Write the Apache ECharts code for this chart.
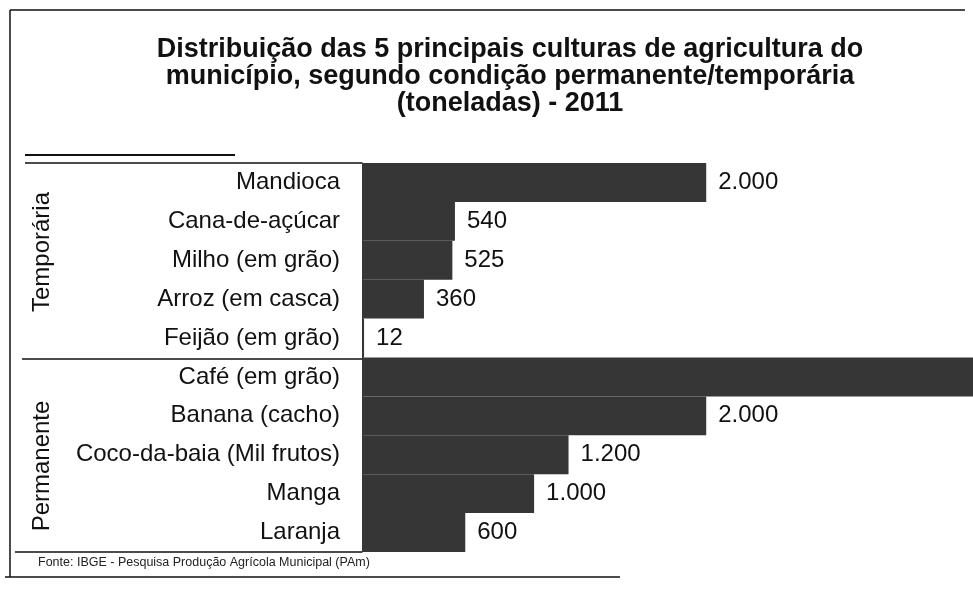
<!DOCTYPE html>
<html>
<head>
    <meta charset="utf-8">
    <title>Culturas agrícolas 2011</title>
    <script src="https://cdn.jsdelivr.net/npm/echarts@6/dist/echarts.min.js"></script>
    <style>
        body { margin: 0; background: #fff; }
    </style>
</head>
<body>
    <div id="main" style="width: 973px;height:596px;"></div>

    <script type="text/javascript">
        // categorias (de cima para baixo) e valores em toneladas
        var culturas = ['Mandioca', 'Cana-de-açúcar', 'Milho (em grão)', 'Arroz (em casca)', 'Feijão (em grão)',
            'Café (em grão)', 'Banana (cacho)', 'Coco-da-baia (Mil frutos)', 'Manga', 'Laranja'];
        // Café sai da imagem à direita: valor estimado
        var toneladas = [2000, 540, 525, 360, 12, 4000, 2000, 1200, 1000, 600];
        var grupos = ['Temporária', 'Permanente'];
        var titulo = 'Distribuição das 5 principais culturas de agricultura do\nmunicípio, segundo condição permanente/temporária\n(toneladas) - 2011';
        var fonte = 'Fonte: IBGE - Pesquisa Produção Agrícola Municipal (PAm)';

        var eixoMax = 3550;

        var myChart = echarts.init(document.getElementById('main'));

        var fmt = function (v) {
            return String(v).replace(/\B(?=(\d{3})+(?!\d))/g, '.');
        };

        var linha = function (x1, y1, x2, y2, w) {
            return {
                type: 'line', silent: true,
                shape: { x1: x1, y1: y1, x2: x2, y2: y2 },
                style: { stroke: '#111', lineWidth: w || 1 }
            };
        };

        option = {
            backgroundColor: '#fff',
            title: {
                text: titulo,
                left: 505,
                textAlign: 'center',
                top: 31,
                textStyle: {
                    fontFamily: 'Liberation Sans',
                    fontSize: 27,
                    fontWeight: 'bold',
                    lineHeight: 27,
                    color: '#111'
                }
            },
            grid: { left: 362, right: 0, top: 163, bottom: 44 },
            xAxis: {
                type: 'value',
                min: 0,
                max: eixoMax,
                show: false
            },
            yAxis: {
                type: 'category',
                data: culturas,
                inverse: true,
                axisTick: { show: false },
                axisLine: { show: true, lineStyle: { color: '#111', width: 1 } },
                axisLabel: {
                    margin: 22,
                    fontFamily: 'Liberation Sans',
                    fontSize: 24,
                    color: '#111'
                }
            },
            series: [{
                type: 'bar',
                data: toneladas,
                barCategoryGap: '0%',
                itemStyle: { color: '#363636' },
                label: {
                    show: true,
                    position: 'right',
                    distance: 12,
                    fontFamily: 'Liberation Sans',
                    fontSize: 24,
                    color: '#111',
                    formatter: function (p) { return p.value > eixoMax ? '' : fmt(p.value); }
                }
            }],
            graphic: [
                // moldura
                linha(10, 10, 965, 10, 1.5),
                linha(10, 10, 10, 577, 1.5),
                linha(5, 577, 620, 577, 1.5),
                // cabeçalho da tabela e divisões
                linha(25, 155, 235, 155, 2),
                linha(25, 163, 362, 163, 1.5),
                linha(22, 359, 362, 359, 1.5),
                linha(15, 552, 362, 552, 1.5),
                {
                    type: 'text', silent: true,
                    x: 42, y: 252, rotation: Math.PI / 2,
                    style: {
                        text: grupos[0], fontFamily: 'Liberation Sans', fontSize: 24,
                        fill: '#111', align: 'center', verticalAlign: 'middle'
                    }
                },
                {
                    type: 'text', silent: true,
                    x: 42, y: 466, rotation: Math.PI / 2,
                    style: {
                        text: grupos[1], fontFamily: 'Liberation Sans', fontSize: 24,
                        fill: '#111', align: 'center', verticalAlign: 'middle'
                    }
                },
                {
                    type: 'text', silent: true,
                    x: 38, y: 563,
                    style: {
                        text: fonte, fontFamily: 'Liberation Sans', fontSize: 12.5,
                        fill: '#222', verticalAlign: 'middle'
                    }
                }
            ]
        };

        myChart.setOption(option);
    </script>
</body>
</html>
